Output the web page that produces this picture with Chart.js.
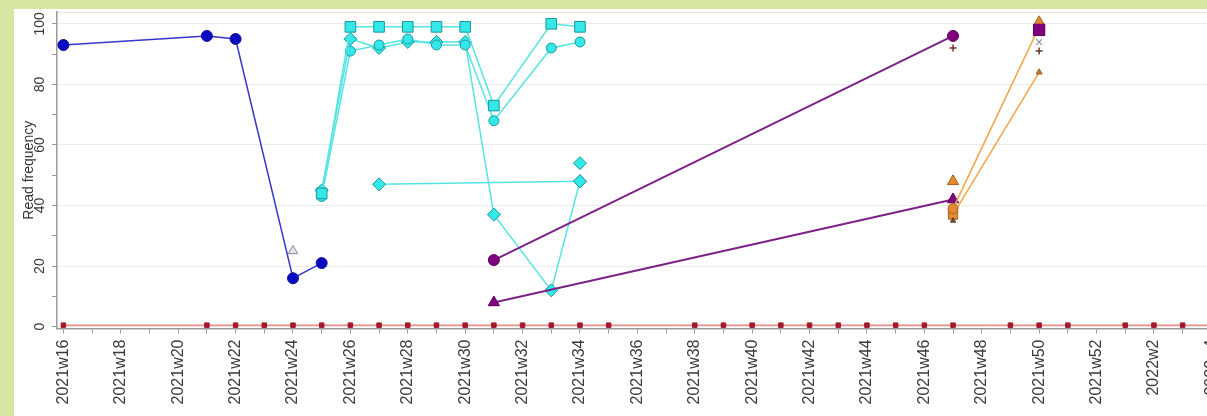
<!DOCTYPE html>
<html>
<head>
<meta charset="utf-8">
<title>Read frequency by week</title>
<script src="https://cdn.jsdelivr.net/npm/chart.js@4.4.1/dist/chart.umd.min.js"></script>
<style>
  html, body { margin: 0; padding: 0; overflow: hidden; background: #d6e5a2; width: 1207px; height: 416px; }
  #frame { position: absolute; left: 14px; top: 9px; width: 1286px; height: 407px; background: #ffffff; }
</style>
</head>
<body>
<div id="frame"><canvas id="chart"></canvas></div>
<script>
// Week categories along the x axis (one tick per week, every other one labelled)
const weeks = [
  '2021w16','2021w17','2021w18','2021w19','2021w20','2021w21','2021w22','2021w23','2021w24','2021w25',
  '2021w26','2021w27','2021w28','2021w29','2021w30','2021w31','2021w32','2021w33','2021w34','2021w35',
  '2021w36','2021w37','2021w38','2021w39','2021w40','2021w41','2021w42','2021w43','2021w44','2021w45',
  '2021w46','2021w47','2021w48','2021w49','2021w50','2021w51','2021w52','2022w1','2022w2','2022w3',
  '2022w4','2022w5','2022w6','2022w7'
];
const yTicks = [0, 10, 20, 30, 40, 50, 60, 70, 80, 90, 100];

// Blue lineage
const blueWeeks = ['2021w16', '2021w21', '2021w22', '2021w24', '2021w25'];
const blueValues = [93, 96, 95, 16, 21];
const greyTriWeeks = ['2021w24'];
const greyTriValues = [25];

// Cyan lineages
const cyanSquareWeeks = ['2021w25','2021w26','2021w27','2021w28','2021w29','2021w30','2021w31','2021w33','2021w34'];
const cyanSquareValues = [44, 99, 99, 99, 99, 99, 73, 100, 99];
const cyanCircleWeeks = ['2021w25','2021w26','2021w27','2021w28','2021w29','2021w30','2021w31','2021w33','2021w34'];
const cyanCircleValues = [43, 91, 93, 95, 93, 93, 68, 92, 94];
const cyanDiamondWeeks = ['2021w25','2021w26','2021w27','2021w28','2021w29','2021w30','2021w31','2021w33','2021w34'];
const cyanDiamondValues = [45, 95, 92, 94, 94, 94, 37, 12, 48];
const cyanFlatWeeks = ['2021w27', '2021w34'];
const cyanFlatValues = [47, 48];
const cyanLoneWeeks = ['2021w34'];
const cyanLoneValues = [54];

// Purple lineages
const purpleCircleWeeks = ['2021w31', '2021w47'];
const purpleCircleValues = [22, 96];
const purpleTriWeeks = ['2021w31', '2021w47'];
const purpleTriValues = [8, 42];
const purpleSquareWeeks = ['2021w50'];
const purpleSquareValues = [98];

// Orange lineages
const orangeAWeeks = ['2021w47', '2021w50'];
const orangeAValues = [39, 99];
const orangeBWeeks = ['2021w47', '2021w50'];
const orangeBValues = [37, 84];
const orangeTriWeeks = ['2021w47', '2021w50'];
const orangeTriValues = [48, 100.5];

// Minor markers
const brownCrossWeeks = ['2021w47', '2021w50'];
const brownCrossValues = [92, 91];
const brownTriWeeks = ['2021w47'];
const brownTriValues = [35];
const greyXWeeks = ['2021w50'];
const greyXValues = [94];

// Red baseline lineage
const redWeeks = [
  '2021w16','2021w21','2021w22','2021w23','2021w24','2021w25','2021w26','2021w27','2021w28','2021w29',
  '2021w30','2021w31','2021w32','2021w33','2021w34','2021w35','2021w38','2021w39','2021w40','2021w41',
  '2021w42','2021w43','2021w44','2021w45','2021w46','2021w47','2021w49','2021w50','2021w51','2022w1',
  '2022w2','2022w3','2022w4','2022w5','2022w6'
];
const redValues = [
  0.5, 0.5, 0.5, 0.5, 0.5, 0.5, 0.5, 0.5, 0.5, 0.5,
  0.5, 0.5, 0.5, 0.5, 0.5, 0.5, 0.5, 0.5, 0.5, 0.5,
  0.5, 0.5, 0.5, 0.5, 0.5, 0.5, 0.5, 0.5, 0.5, 0.5,
  0.5, 0.5, 0.5, 0.5, 0.5
];

function series(weekList, values) {
  return weekList.map((w, i) => ({ x: weeks.indexOf(w), y: values[i] }));
}

const CYAN_LINE = 'rgb(85,228,228)';
const CYAN_FILL = 'rgb(52,232,232)';
const CYAN_EDGE = 'rgb(30,150,160)';

function lineSet(data, o) {
  return Object.assign({
    data: data,
    showLine: true,
    borderWidth: 1.5,
    pointBorderWidth: 1,
    pointHoverRadius: 0,
    tension: 0
  }, o);
}

const datasets = [
  lineSet(series(purpleSquareWeeks, purpleSquareValues), { showLine: false, pointStyle: 'rect', pointRadius: 8, backgroundColor: '#800080', pointBackgroundColor: '#800080', pointBorderColor: '#5a005a', borderColor: '#800080' }),
  lineSet(series(greyXWeeks, greyXValues), { showLine: false, pointStyle: 'crossRot', pointRadius: 4, borderColor: '#8a8a9a', pointBorderColor: '#8a8a9a', pointBorderWidth: 1.2 }),
  lineSet(series(brownCrossWeeks, brownCrossValues), { showLine: false, pointStyle: 'cross', pointRadius: 3.5, borderColor: '#6a3a2a', pointBorderColor: '#6a3a2a', pointBorderWidth: 1.5 }),
  lineSet(series(brownTriWeeks, brownTriValues), { showLine: false, pointStyle: 'triangle', pointRadius: 3, pointBackgroundColor: '#7a4a3a', pointBorderColor: '#5a3a2a', borderColor: '#7a4a3a' }),
  lineSet(series(orangeTriWeeks, orangeTriValues), { showLine: false, pointStyle: 'triangle', pointRadius: 6.5, pointBackgroundColor: '#e48a30', pointBorderColor: '#a85e1e', borderColor: '#e48a30' }),
  lineSet(series(orangeAWeeks, orangeAValues), { pointStyle: 'circle', pointRadius: [5, 0], borderColor: '#f2a444', pointBackgroundColor: '#e48a30', pointBorderColor: '#a85e1e' }),
  lineSet(series(orangeBWeeks, orangeBValues), { pointStyle: ['rect', 'triangle'], pointRadius: [6.5, 3.5], borderColor: '#f2a444', pointBackgroundColor: ['#e48a30', '#c0783a'], pointBorderColor: '#a85e1e' }),
  lineSet(series(purpleCircleWeeks, purpleCircleValues), { pointStyle: 'circle', pointRadius: 5.5, borderWidth: 2, borderColor: '#7c2287', pointBackgroundColor: '#800080', pointBorderColor: '#5a005a' }),
  lineSet(series(purpleTriWeeks, purpleTriValues), { pointStyle: 'triangle', pointRadius: 6.5, borderWidth: 2, borderColor: '#7c2287', pointBackgroundColor: '#800080', pointBorderColor: '#5a005a' }),
  lineSet(series(blueWeeks, blueValues), { pointStyle: 'circle', pointRadius: 5.5, borderColor: '#3636c8', pointBackgroundColor: '#0a0ac2', pointBorderColor: '#10109a' }),
  lineSet(series(greyTriWeeks, greyTriValues), { showLine: false, pointStyle: 'triangle', pointRadius: 5.5, pointBackgroundColor: '#e4e4ea', pointBorderColor: '#8a8a98', borderColor: '#8a8a98' }),
  lineSet(series(cyanSquareWeeks, cyanSquareValues), { pointStyle: 'rect', pointRadius: 7.5, borderColor: CYAN_LINE, pointBackgroundColor: CYAN_FILL, pointBorderColor: CYAN_EDGE }),
  lineSet(series(cyanCircleWeeks, cyanCircleValues), { pointStyle: 'circle', pointRadius: 5, borderColor: CYAN_LINE, pointBackgroundColor: CYAN_FILL, pointBorderColor: CYAN_EDGE }),
  lineSet(series(cyanDiamondWeeks, cyanDiamondValues), { pointStyle: 'rectRot', pointRadius: 6.5, borderColor: CYAN_LINE, pointBackgroundColor: CYAN_FILL, pointBorderColor: CYAN_EDGE }),
  lineSet(series(cyanFlatWeeks, cyanFlatValues), { pointStyle: 'rectRot', pointRadius: 6.5, borderColor: CYAN_LINE, pointBackgroundColor: CYAN_FILL, pointBorderColor: CYAN_EDGE }),
  lineSet(series(cyanLoneWeeks, cyanLoneValues), { showLine: false, pointStyle: 'rectRot', pointRadius: 6.5, borderColor: CYAN_LINE, pointBackgroundColor: CYAN_FILL, pointBorderColor: CYAN_EDGE }),
  lineSet(series(redWeeks, redValues), { pointStyle: 'rect', pointRadius: 3.2, borderColor: '#f08a8a', pointBackgroundColor: '#a3192b', pointBorderColor: '#a3192b' })
];

const FONT_FAMILY = '"Liberation Sans", Arial, sans-serif';

// Scales keep a fixed footprint so the plot area lands where it should
function noPadding(scale) {
  scale.paddingTop = 0;
  scale.paddingBottom = 0;
  scale.paddingLeft = 0;
  scale.paddingRight = 0;
}

new Chart(document.getElementById('chart'), {
  type: 'scatter',
  data: { datasets: datasets },
  options: {
    responsive: true,
    maintainAspectRatio: false,
    animation: false,
    events: [],
    layout: { autoPadding: false, padding: { top: 3, right: 0, bottom: 0, left: 0 } },
    plugins: { legend: { display: false }, tooltip: { enabled: false }, title: { display: false } },
    scales: {
      x: {
        type: 'linear',
        min: -0.223,
        max: 43.09,
        afterBuildTicks: (scale) => { scale.ticks = weeks.map((w, i) => ({ value: i })); },
        afterFit: (scale) => { scale.height = 87.5; noPadding(scale); },
        grid: { drawOnChartArea: false, tickLength: 5, tickColor: '#9a9a9a' },
        border: { color: '#9a9a9a', width: 1.5 },
        ticks: {
          autoSkip: false,
          minRotation: 90,
          maxRotation: 90,
          padding: 6,
          color: '#3a3a3a',
          font: { family: FONT_FAMILY, size: 16 },
          callback: (value) => (value % 2 === 0 ? weeks[value] : '')
        }
      },
      xTop: {
        type: 'linear',
        position: 'top',
        min: -0.223,
        max: 43.09,
        afterFit: (scale) => { scale.height = 0; noPadding(scale); },
        grid: { drawOnChartArea: false, drawTicks: false },
        border: { color: '#e8e8e8', width: 1 },
        ticks: { display: false }
      },
      y: {
        type: 'linear',
        min: -0.6,
        max: 103.9,
        afterBuildTicks: (scale) => { scale.ticks = yTicks.map(v => ({ value: v })); },
        afterFit: (scale) => { scale.width = 43; noPadding(scale); },
        grid: {
          color: (ctx) => (ctx.tick && ctx.tick.value % 20 === 0 ? '#ebebeb' : 'rgba(0,0,0,0)'),
          tickColor: '#9a9a9a',
          tickLength: 5,
          lineWidth: 1
        },
        border: { color: '#9a9a9a', width: 1.5 },
        ticks: {
          minRotation: 90,
          crossAlign: 'center',
          padding: 0,
          color: '#3a3a3a',
          font: { family: FONT_FAMILY, size: 14 },
          callback: (value) => (value % 20 === 0 ? String(value) : '')
        },
        title: {
          display: true,
          text: 'Read frequency',
          color: '#333333',
          padding: { top: 7, bottom: 4 },
          font: { family: FONT_FAMILY, size: 14 }
        }
      }
    }
  }
});
</script>
</body>
</html>
